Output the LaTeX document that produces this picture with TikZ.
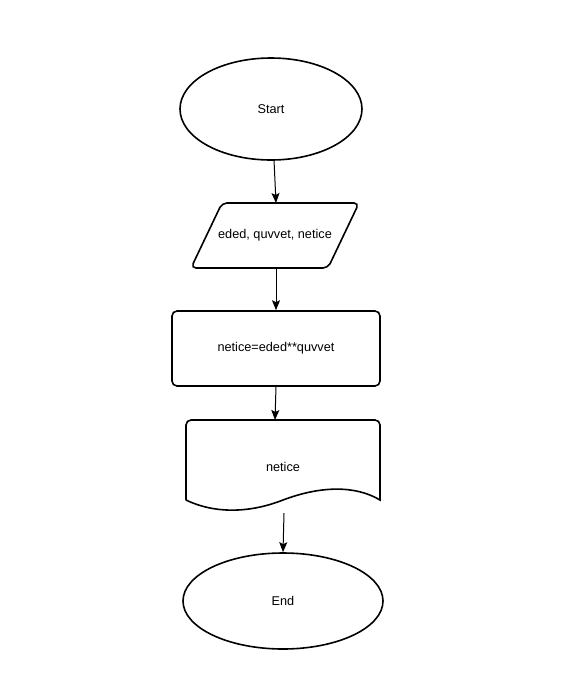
\documentclass[tikz,border=0pt]{standalone}
\usepackage{fontspec}
\setmainfont{Liberation Sans}
\usetikzlibrary{shapes.geometric,arrows.meta}
\begin{document}
\begin{tikzpicture}[x=1pt,y=-1pt,
  shapeline/.style={line width=1.6pt},
  conn/.style={line width=1pt,-{Stealth[length=10pt,width=8pt,inset=2pt]}},
  lbl/.style={font=\fontsize{12.7}{15}\selectfont}]
\useasboundingbox[fill=white] (0,0) rectangle (572,689);
% Start
\node[ellipse,draw,shapeline,minimum width=182pt,minimum height=102pt,inner sep=0pt,lbl] (start) at (271,109) {Start};
\coordinate (startout) at (274,160);
% Input/output
\draw[shapeline,rounded corners=5pt] (222,203) -- (359,203) -- (328,268) -- (191,268) -- cycle;
\coordinate (iotop) at (276,203);
\coordinate (iobot) at (276,268);
\node[lbl] (io) at (275,235) {eded, quvvet, netice};
% Process
\node[rectangle,draw,shapeline,rounded corners=5pt,minimum width=208pt,minimum height=75pt,lbl] (proc) at (276,348.5) {netice=eded**quvvet};
% Document
\draw[shapeline] (186,500) [rounded corners=5pt] -- (186,420) -- (380,420) [sharp corners] -- (380,500)
  .. controls (355,485) and (320,486) .. (283,500)
  .. controls (250,513) and (215,514) .. (186,500);
\coordinate (doctop) at (275,420);
\coordinate (docout) at (284,513);
\node[lbl] (doc) at (283,467) {netice};
% End
\node[ellipse,draw,shapeline,minimum width=200pt,minimum height=96pt,inner sep=0pt,lbl] (end) at (283,601) {End};
% Connectors
\draw[conn] (startout) -- (iotop);
\draw[conn] (iobot) -- (proc.north);
\draw[conn] (proc.south) -- (doctop);
\draw[conn] (docout) -- (end.north);
\end{tikzpicture}
\end{document}
